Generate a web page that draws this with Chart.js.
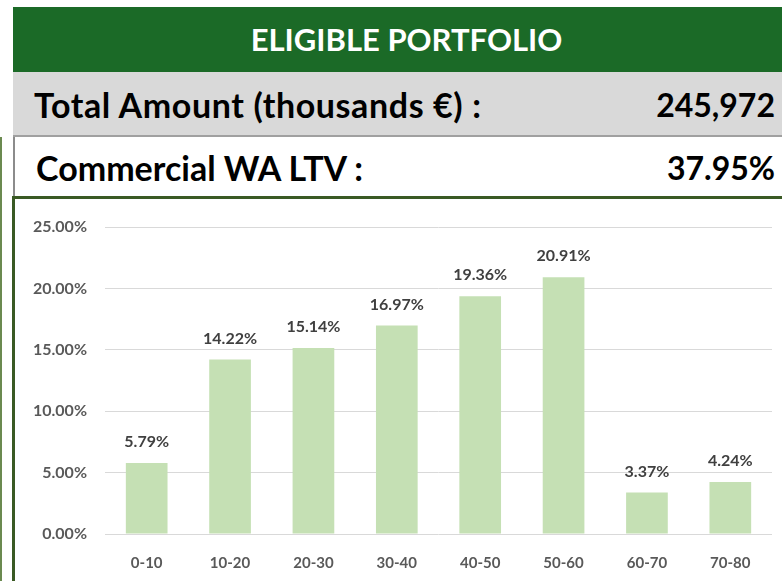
<!DOCTYPE html>
<html>
<head>
<meta charset="utf-8">
<script src="https://cdn.jsdelivr.net/npm/chart.js@4.4.0/dist/chart.umd.min.js"></script>
<style>
  body { margin: 0; width: 782px; height: 581px; overflow: hidden; background: #fff; font-family: Lato, "Open Sans", sans-serif; position: relative; }
  .box { position: absolute; box-sizing: border-box; }
  #title { left: 13px; top: 7px; width: 769px; height: 65px; background: #1b6a27; color: #fff; font-weight: bold; font-size: 31px; line-height: 65px; text-align: center; padding-left: 18px; }
  #row1 { left: 13px; top: 72px; width: 769px; height: 65px; background: #d9d9d9; border-bottom: 2px solid #a0a0a0; font-weight: bold; color: #000; }
  #row2 { left: 13px; top: 137px; width: 769px; height: 60px; background: #fff; border-left: 2px solid #8c8c8c; border-bottom: 1px solid #8c8c8c; font-weight: bold; color: #000; }
  .lbl { position: absolute; left: 21px; top: 50%; transform: translateY(-50%); white-space: nowrap; font-size: 34px; }
  #row1 .lbl { letter-spacing: 0.6px; }
  .val { position: absolute; right: 7px; top: 50%; transform: translateY(-50%); white-space: nowrap; font-size: 32px; }
  #frame { left: 12px; top: 196px; width: 790px; height: 400px; border: 3px solid #3a5a24; }
  #edge { left: 0px; top: 137px; width: 2px; height: 444px; background: #6b8a50; }
  #wrap { position: absolute; left: 15px; top: 199px; width: 767px; height: 382px; }
</style>
</head>
<body>
<div class="box" id="title">ELIGIBLE PORTFOLIO</div>
<div class="box" id="row1"><span class="lbl">Total Amount (thousands €) :</span><span class="val">245,972</span></div>
<div class="box" id="row2"><span class="lbl">Commercial WA LTV :</span><span class="val">37.95%</span></div>
<div class="box" id="edge"></div>
<div class="box" id="frame"></div>
<div id="wrap"><canvas id="canvas" width="767" height="382"></canvas></div>
<script>
var categories = ["0-10", "10-20", "20-30", "30-40", "40-50", "50-60", "60-70", "70-80"];
var shares = [5.79, 14.22, 15.14, 16.97, 19.36, 20.91, 3.37, 4.24];
var yTicks = [0, 5, 10, 15, 20, 25];

// value labels above each bar
var barLabels = {
	id: 'barLabels',
	afterDatasetsDraw: function (chart) {
		var ctx = chart.ctx;
		var meta = chart.getDatasetMeta(0);
		ctx.save();
		ctx.font = 'bold 16px Lato, sans-serif';
		ctx.fillStyle = '#404040';
		ctx.textAlign = 'center';
		ctx.textBaseline = 'middle';
		meta.data.forEach(function (bar, i) {
			ctx.fillText(shares[i].toFixed(2) + '%', bar.x, bar.y - 21);
		});
		ctx.restore();
	}
};

var ctx = document.getElementById('canvas').getContext('2d');
new Chart(ctx, {
	type: 'bar',
	data: {
		labels: categories,
		datasets: [{
			data: shares,
			backgroundColor: '#c5e0b4',
			borderWidth: 0,
			barPercentage: 0.5,
			categoryPercentage: 1
		}]
	},
	options: {
		responsive: false,
		animation: false,
		layout: { padding: { top: 28, right: 10, left: 0, bottom: 0 } },
		plugins: { legend: { display: false }, tooltip: { enabled: false } },
		scales: {
			x: {
				grid: { display: false },
				border: { display: false },
				ticks: { color: '#595959', font: { family: 'Lato', weight: 'bold', size: 15 }, padding: 12 },
				afterFit: function (scale) { scale.height = 47; }
			},
			y: {
				min: 0,
				max: 25,
				afterBuildTicks: function (scale) {
					scale.ticks = yTicks.map(function (v) { return { value: v }; });
				},
				grid: { color: '#d9d9d9', lineWidth: 1, drawTicks: false },
				border: { display: false },
				ticks: {
					color: '#595959',
					font: { family: 'Lato', weight: 'bold', size: 16 },
					padding: 18,
					callback: function (v) { return v.toFixed(2) + '%'; }
				},
				afterFit: function (scale) { scale.width = 90; }
			}
		}
	},
	plugins: [barLabels]
});
</script>
</body>
</html>
